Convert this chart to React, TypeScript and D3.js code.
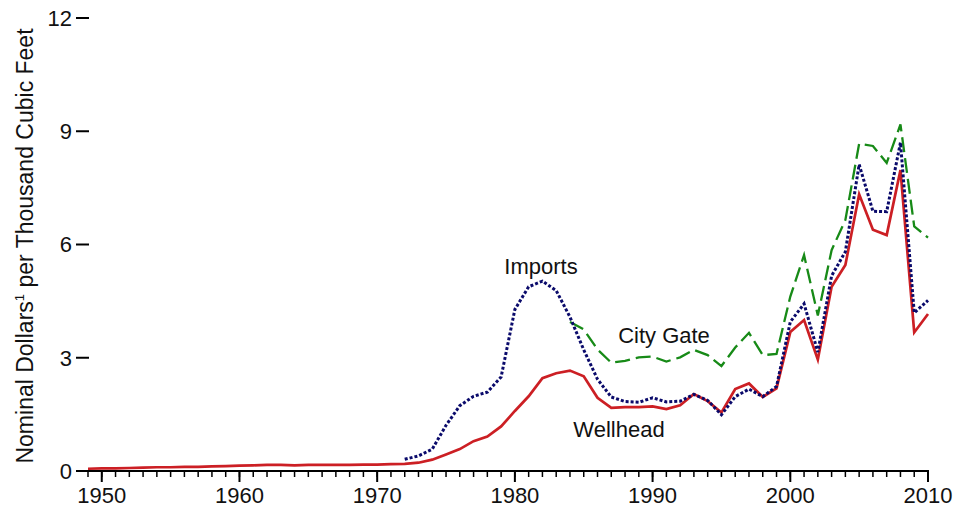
import React from "react";
import * as d3 from "d3";

const wellheadYears = d3.range(1949, 2011);
const wellheadValues = [
  0.06, 0.07, 0.07, 0.08, 0.09, 0.1, 0.1, 0.11, 0.11, 0.12, 0.13, 0.14, 0.15, 0.16, 0.16, 0.15,
  0.16, 0.16, 0.16, 0.16, 0.17, 0.17, 0.18, 0.19, 0.22, 0.3, 0.44, 0.58, 0.79, 0.91, 1.18, 1.59,
  1.98, 2.46, 2.59, 2.66, 2.51, 1.94, 1.67, 1.69, 1.69, 1.71, 1.64, 1.74, 2.04, 1.85, 1.55, 2.17,
  2.32, 1.96, 2.19, 3.68, 4.0, 2.95, 4.88, 5.46, 7.33, 6.39, 6.25, 7.97, 3.67, 4.16,
];

const importYears = d3.range(1972, 2011);
const importValues = [
  0.31, 0.4, 0.58, 1.21, 1.73, 1.98, 2.09, 2.49, 4.28, 4.88, 5.03, 4.78, 4.08, 3.21, 2.43, 1.96,
  1.84, 1.82, 1.94, 1.83, 1.85, 2.03, 1.87, 1.49, 1.97, 2.17, 1.97, 2.24, 3.95, 4.43, 3.15, 5.17,
  5.81, 8.12, 6.88, 6.87, 8.7, 4.19, 4.52,
];

const cityGateYears = d3.range(1984, 2011);
const cityGateValues = [
  3.95, 3.75, 3.22, 2.87, 2.92, 3.01, 3.03, 2.9, 3.01, 3.21, 3.07, 2.78, 3.27, 3.66, 3.07, 3.1,
  4.62, 5.72, 4.12, 5.85, 6.65, 8.67, 8.61, 8.16, 9.18, 6.48, 6.18,
];

const yTicks = [0, 3, 6, 9, 12];
const xMajorTicks = [1950, 1960, 1970, 1980, 1990, 2000, 2010];
const xMinorTicks = d3.range(1949, 2011);

const FONT = "'Liberation Sans', Arial, Helvetica, sans-serif";

export default function App() {
  const W = 958;
  const H = 511;
  const x = d3.scaleLinear().domain([1949, 2010]).range([88, 928]);
  const y = d3.scaleLinear().domain([0, 12]).range([471, 18]);

  const line = d3
    .line<[number, number]>()
    .x((d) => x(d[0]))
    .y((d) => y(d[1]));

  const zip = (ys: number[], vs: number[]) => ys.map((yr, i) => [yr, vs[i]] as [number, number]);

  return (
    <div style={{ position: "fixed", left: 0, top: 0 }}>
      <svg width={W} height={H} style={{ display: "block", background: "#fff" }}>
        {/* y-axis title */}
        <text
          transform={`translate(33,${246}) rotate(-90)`}
          textAnchor="middle"
          fontFamily={FONT}
          fontSize={23}
          fill="#111"
        >
          Nominal Dollars<tspan fontSize={13} dy={-9}>1</tspan>
          <tspan dy={9}> per Thousand Cubic Feet</tspan>
        </text>

        {/* y ticks */}
        {yTicks.map((t) => (
          <g key={t}>
            <line x1={76} x2={89} y1={y(t)} y2={y(t)} stroke="#000" strokeWidth={2} />
            <text x={72} y={y(t)} dy="0.36em" textAnchor="end" fontFamily={FONT} fontSize={22} fill="#111">
              {t}
            </text>
          </g>
        ))}

        {/* x axis */}
        <line x1={78} x2={929} y1={471} y2={471} stroke="#000" strokeWidth={2} />
        {xMinorTicks.map((t) => (
          <line key={"m" + t} x1={x(t)} x2={x(t)} y1={471} y2={477} stroke="#000" strokeWidth={1.5} />
        ))}
        {xMajorTicks.map((t) => (
          <g key={"M" + t}>
            <line x1={x(t)} x2={x(t)} y1={471} y2={482} stroke="#000" strokeWidth={2} />
            <text x={x(t)} y={503} textAnchor="middle" fontFamily={FONT} fontSize={22} fill="#111">
              {t}
            </text>
          </g>
        ))}

        {/* series */}
        <path
          d={line(zip(cityGateYears, cityGateValues)) || ""}
          fill="none"
          stroke="#178a17"
          strokeWidth={2.3}
          strokeDasharray="15 6"
        />
        <path
          d={line(zip(wellheadYears, wellheadValues)) || ""}
          fill="none"
          stroke="#cc1f24"
          strokeWidth={2.7}
        />
        <path
          d={line(zip(importYears, importValues)) || ""}
          fill="none"
          stroke="#0a0a6b"
          strokeWidth={3}
          strokeDasharray="3 2"
        />

        {/* labels */}
        <text x={541} y={274} textAnchor="middle" fontFamily={FONT} fontSize={22} fill="#111">
          Imports
        </text>
        <text x={664} y={343} textAnchor="middle" fontFamily={FONT} fontSize={22} fill="#111">
          City Gate
        </text>
        <text x={619} y={437} textAnchor="middle" fontFamily={FONT} fontSize={22} fill="#111">
          Wellhead
        </text>
      </svg>
    </div>
  );
}
